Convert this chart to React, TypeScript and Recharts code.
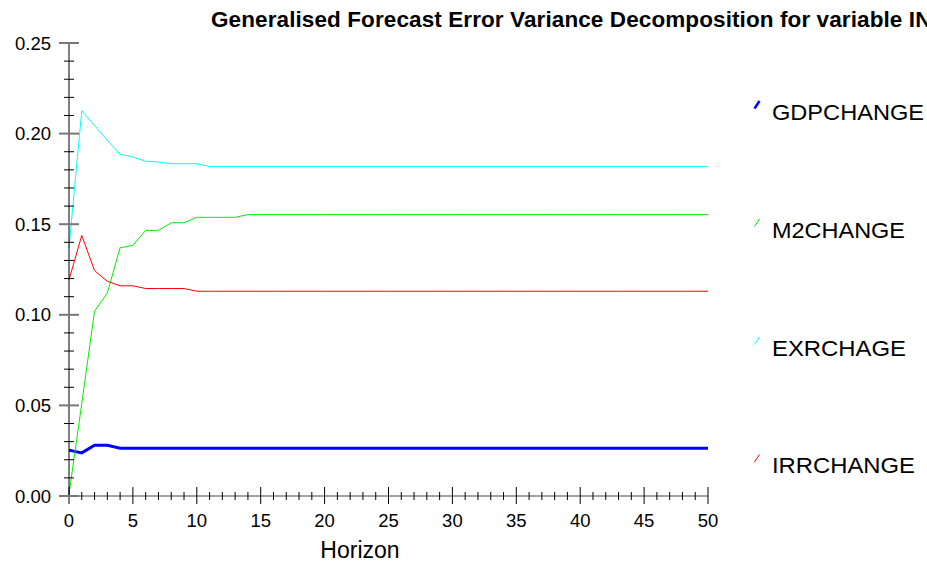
import React from 'react';
import { LineChart, Line, XAxis, YAxis } from 'recharts';

const horizons = [
  0, 1, 2, 3, 4, 5, 6, 7, 8, 9,
  10, 11, 12, 13, 14, 15, 16, 17, 18, 19,
  20, 21, 22, 23, 24, 25, 26, 27, 28, 29,
  30, 31, 32, 33, 34, 35, 36, 37, 38, 39,
  40, 41, 42, 43, 44, 45, 46, 47, 48, 49,
  50,
];

const gdpChange = [
  0.0253, 0.0238, 0.028, 0.028, 0.0264, 0.0264, 0.0264, 0.0264, 0.0264, 0.0264,
  0.0264, 0.0264, 0.0264, 0.0264, 0.0264, 0.0264, 0.0264, 0.0264, 0.0264, 0.0264,
  0.0264, 0.0264, 0.0264, 0.0264, 0.0264, 0.0264, 0.0264, 0.0264, 0.0264, 0.0264,
  0.0264, 0.0264, 0.0264, 0.0264, 0.0264, 0.0264, 0.0264, 0.0264, 0.0264, 0.0264,
  0.0264, 0.0264, 0.0264, 0.0264, 0.0264, 0.0264, 0.0264, 0.0264, 0.0264, 0.0264,
  0.0264,
];

const m2Change = [
  0.001, 0.051, 0.102, 0.112, 0.137, 0.1383, 0.1466, 0.1466, 0.1508, 0.1508,
  0.1538, 0.1538, 0.1538, 0.1538, 0.1553, 0.1553, 0.1553, 0.1553, 0.1553, 0.1553,
  0.1553, 0.1553, 0.1553, 0.1553, 0.1553, 0.1553, 0.1553, 0.1553, 0.1553, 0.1553,
  0.1553, 0.1553, 0.1553, 0.1553, 0.1553, 0.1553, 0.1553, 0.1553, 0.1553, 0.1553,
  0.1553, 0.1553, 0.1553, 0.1553, 0.1553, 0.1553, 0.1553, 0.1553, 0.1553, 0.1553,
  0.1553,
];

const exrChage = [
  0.137, 0.2126, 0.2045, 0.1963, 0.1886, 0.1871, 0.1847, 0.1843, 0.1834, 0.1834,
  0.1834, 0.1818, 0.1818, 0.1818, 0.1818, 0.1818, 0.1818, 0.1818, 0.1818, 0.1818,
  0.1818, 0.1818, 0.1818, 0.1818, 0.1818, 0.1818, 0.1818, 0.1818, 0.1818, 0.1818,
  0.1818, 0.1818, 0.1818, 0.1818, 0.1818, 0.1818, 0.1818, 0.1818, 0.1818, 0.1818,
  0.1818, 0.1818, 0.1818, 0.1818, 0.1818, 0.1818, 0.1818, 0.1818, 0.1818, 0.1818,
  0.1818,
];

const irrChange = [
  0.1193, 0.1438, 0.1244, 0.1185, 0.116, 0.116, 0.1145, 0.1145, 0.1145, 0.1145,
  0.113, 0.113, 0.113, 0.113, 0.113, 0.113, 0.113, 0.113, 0.113, 0.113,
  0.113, 0.113, 0.113, 0.113, 0.113, 0.113, 0.113, 0.113, 0.113, 0.113,
  0.113, 0.113, 0.113, 0.113, 0.113, 0.113, 0.113, 0.113, 0.113, 0.113,
  0.113, 0.113, 0.113, 0.113, 0.113, 0.113, 0.113, 0.113, 0.113, 0.113,
  0.113,
];

const xTicks = horizons;
const xLabelTicks = [0, 5, 10, 15, 20, 25, 30, 35, 40, 45, 50];
const yTicks = [
  0, 0.01, 0.02, 0.03, 0.04, 0.05, 0.06, 0.07, 0.08, 0.09,
  0.1, 0.11, 0.12, 0.13, 0.14, 0.15, 0.16, 0.17, 0.18, 0.19,
  0.2, 0.21, 0.22, 0.23, 0.24, 0.25,
];
const yLabelTicks = ['0.00', '0.05', '0.10', '0.15', '0.20', '0.25'];

const title = 'Generalised Forecast Error Variance Decomposition for variable IN';
const xTitle = 'Horizon';

const series = [
  { key: 'gdp', name: 'GDPCHANGE', values: gdpChange, color: '#0000ff', width: 3, textLen: 152 },
  { key: 'm2', name: 'M2CHANGE', values: m2Change, color: '#00ee00', width: 1, textLen: 133 },
  { key: 'exr', name: 'EXRCHAGE', values: exrChage, color: '#00ffff', width: 1, textLen: 134 },
  { key: 'irr', name: 'IRRCHANGE', values: irrChange, color: '#ff0000', width: 1, textLen: 143 },
];

const data = horizons.map((h, i) => {
  const row: Record<string, number> = { h };
  series.forEach((s) => {
    row[s.key] = s.values[i];
  });
  return row;
});

const FONT = '"Liberation Sans", Arial, sans-serif';

const XTick = (props: any) => {
  const { x, y, payload } = props;
  const v = payload.value as number;
  const major = xLabelTicks.includes(v);
  return (
    <g>
      {major ? (
        <line x1={x} x2={x} y1={y - 9} y2={y + 8} stroke="#000" strokeWidth={1} />
      ) : (
        <line x1={x} x2={x} y1={y - 4} y2={y + 4} stroke="#000" strokeWidth={1} />
      )}
      {major && (
        <text x={x} y={y + 30.5} textAnchor="middle" fontSize={18.5} fontFamily={FONT} fill="#000">
          {String(v)}
        </text>
      )}
    </g>
  );
};

const YTick = (props: any) => {
  const { x, y, payload } = props;
  const v = payload.value as number;
  const label = v.toFixed(2);
  const major = yLabelTicks.includes(label);
  return (
    <g>
      {major ? (
        <line x1={x - 10} x2={x + 10} y1={y} y2={y} stroke="#777" strokeWidth={2} />
      ) : (
        <line x1={x - 5} x2={x + 5} y1={y} y2={y} stroke="#000" strokeWidth={1} />
      )}
      {major && (
        <text x={x - 18} y={y} dy="0.36em" textAnchor="end" fontSize={18.5} fontFamily={FONT} fill="#000">
          {label}
        </text>
      )}
    </g>
  );
};

const legendBaselines = [119.5, 237.5, 355.5, 473];

export default function App() {
  return (
    <div style={{ position: 'absolute', left: 0, top: 0, width: 927, height: 565, background: '#fff', overflow: 'hidden' }}>
      <LineChart
        width={927}
        height={565}
        data={data}
        margin={{ top: 43, right: 219, bottom: 68, left: 68 }}
      >
        <XAxis
          dataKey="h"
          type="number"
          domain={[0, 50]}
          ticks={xTicks}
          interval={0}
          height={1}
          tickSize={0}
          tickMargin={0}
          tickLine={false}
          axisLine={{ stroke: '#444', strokeWidth: 1 }}
          tick={<XTick />}
        />
        <YAxis
          type="number"
          domain={[0, 0.25]}
          ticks={yTicks}
          interval={0}
          width={1}
          tickSize={0}
          tickMargin={0}
          tickLine={false}
          axisLine={{ stroke: '#000', strokeWidth: 1 }}
          tick={<YTick />}
        />
        {series.map((s) => (
          <Line
            key={s.key}
            type="linear"
            dataKey={s.key}
            name={s.name}
            stroke={s.color}
            strokeWidth={s.width}
            dot={false}
            activeDot={false}
            isAnimationActive={false}
          />
        ))}
      </LineChart>
      <svg
        width={927}
        height={565}
        style={{ position: 'absolute', left: 0, top: 0, pointerEvents: 'none' }}
      >
        <text x={211} y={27} fontSize={22.5} letterSpacing={0.1} fontWeight="bold" fontFamily={FONT} fill="#000">
          {title}
        </text>
        <text x={360} y={558.3} textAnchor="middle" fontSize={23} fontFamily={FONT} fill="#000">
          {xTitle}
        </text>
        {series.map((s, i) => {
          const b = legendBaselines[i];
          return (
            <g key={s.key}>
              <line x1={754.5} y1={b - 11} x2={759.5} y2={b - 18.5} stroke={s.color} strokeWidth={s.width === 3 ? 2.5 : 1} />
              <text
                x={772}
                y={b}
                fontSize={22}
                fontFamily={FONT}
                fill="#000"
                textLength={s.textLen}
                lengthAdjust="spacingAndGlyphs"
              >
                {s.name}
              </text>
            </g>
          );
        })}
      </svg>
    </div>
  );
}
